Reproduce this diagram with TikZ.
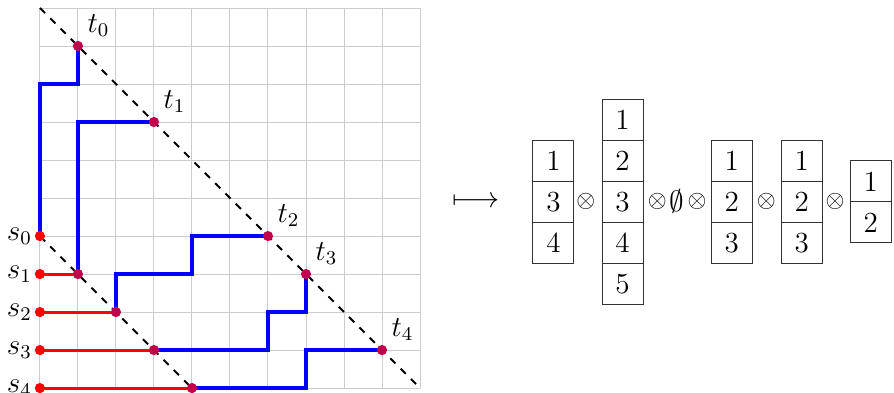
\documentclass[tikz,border=0pt]{standalone}
\usepackage{amsmath}
\usetikzlibrary{positioning,backgrounds}
\definecolor{gridc}{HTML}{CCCCCC}
\definecolor{dotc}{HTML}{C0004A}
\tikzset{
  dot/.style={circle, fill=#1, inner sep=0pt, minimum size=4.2pt},
  lab/.style={font=\large},
  redpath/.style={draw=red, very thick},
  bluepath/.style={draw=blue, line width=1.5pt},
  diag/.style={draw=black, thick, dashed},
  cell/.style={draw=black!80, minimum size=0.593cm, inner sep=0pt, outer sep=0pt, font=\large},
  op/.style={inner sep=0pt}
}

\begin{document}
\begin{tikzpicture}[x=0.55cm, y=0.55cm]
  \useasboundingbox (-1.05,-0.105) rectangle (22.47,10.21);
  % start points
  \node[dot=red] (s0) at (0,4) {};
  \node[dot=red] (s1) at (0,3) {};
  \node[dot=red] (s2) at (0,2) {};
  \node[dot=red] (s3) at (0,1) {};
  \node[dot=red] (s4) at (0,0) {};
  \node[lab, left=-2.5pt of s0] (ls0) {$s_0$};
  \node[lab, left=-2.5pt of s1] (ls1) {$s_1$};
  \node[lab, left=-2.5pt of s2] (ls2) {$s_2$};
  \node[lab, left=-2.5pt of s3] (ls3) {$s_3$};
  \node[lab, left=-2.5pt of s4] (ls4) {$s_4$};
  % end points
  \node[dot=dotc] (t0) at (1,9) {};
  \node[dot=dotc] (t1) at (3,7) {};
  \node[dot=dotc] (t2) at (6,4) {};
  \node[dot=dotc] (t3) at (7,3) {};
  \node[dot=dotc] (t4) at (9,1) {};
  \node[lab, above right=-1.2pt and -1.2pt of t0] (lt0) {$t_0$};
  \node[lab, above right=-1.2pt and -1.2pt of t1] (lt1) {$t_1$};
  \node[lab, above right=-1.2pt and -1.2pt of t2] (lt2) {$t_2$};
  \node[lab, above right=-1.2pt and -1.2pt of t3] (lt3) {$t_3$};
  \node[lab, above right=-1.2pt and -1.2pt of t4] (lt4) {$t_4$};
  % points on the short diagonal
  \node[dot=dotc] (p1) at (1,3) {};
  \node[dot=dotc] (p2) at (2,2) {};
  \node[dot=dotc] (p3) at (3,1) {};
  \node[dot=dotc] (p4) at (4,0) {};
  \begin{scope}[on background layer]
    \draw[gridc, thin, step=0.55cm] (0,0) grid (10,10);
    \draw[diag] (0,10) -- (10,0);
    \draw[diag] (s0.center) -- (p4.center);
    \draw[redpath] (s1.center) -- (p1.center);
    \draw[redpath] (s2.center) -- (p2.center);
    \draw[redpath] (s3.center) -- (p3.center);
    \draw[redpath] (s4.center) -- (p4.center);
    \draw[bluepath] (s0.center) -- ++(0,4) -- ++(1,0) -- (t0.center);
    \draw[bluepath] (p1.center) |- (t1.center);
    \draw[bluepath] (p2.center) -- ++(0,1) -- ++(2,0) |- (t2.center);
    \draw[bluepath] (p3.center) -- ++(3,0) -- ++(0,1) -| (t3.center);
    \draw[bluepath] (p4.center) -- ++(3,0) |- (t4.center);
  \end{scope}
  % tableaux
  \node[lab] (m) at (11.47,4.9) {$\longmapsto$};
  \node[cell] (a2) at (13.51,4.9) {3};
  \node[cell, above=0pt of a2] (a1) {1};
  \node[cell, below=0pt of a2] (a3) {4};
  \node[op] (x1) at (14.36,4.9) {$\otimes$};
  \node[cell] (b3) at (15.33,4.9) {3};
  \node[cell, above=0pt of b3] (b2) {2};
  \node[cell, above=0pt of b2] (b1) {1};
  \node[cell, below=0pt of b3] (b4) {4};
  \node[cell, below=0pt of b4] (b5) {5};
  \node[op] (x2) at (16.24,4.9) {$\otimes$};
  \node[op, lab] (z) at (16.76,4.9) {$\emptyset$};
  \node[op] (x3) at (17.29,4.9) {$\otimes$};
  \node[cell] (c2) at (18.20,4.9) {2};
  \node[cell, above=0pt of c2] (c1) {1};
  \node[cell, below=0pt of c2] (c3) {3};
  \node[op] (x4) at (19.11,4.9) {$\otimes$};
  \node[cell] (d2) at (20.04,4.9) {2};
  \node[cell, above=0pt of d2] (d1) {1};
  \node[cell, below=0pt of d2] (d3) {3};
  \node[op] (x5) at (20.92,4.9) {$\otimes$};
  \node[cell, anchor=south] (e1) at (21.86,4.9) {1};
  \node[cell, below=0pt of e1] (e2) {2};
\end{tikzpicture}
\end{document}
